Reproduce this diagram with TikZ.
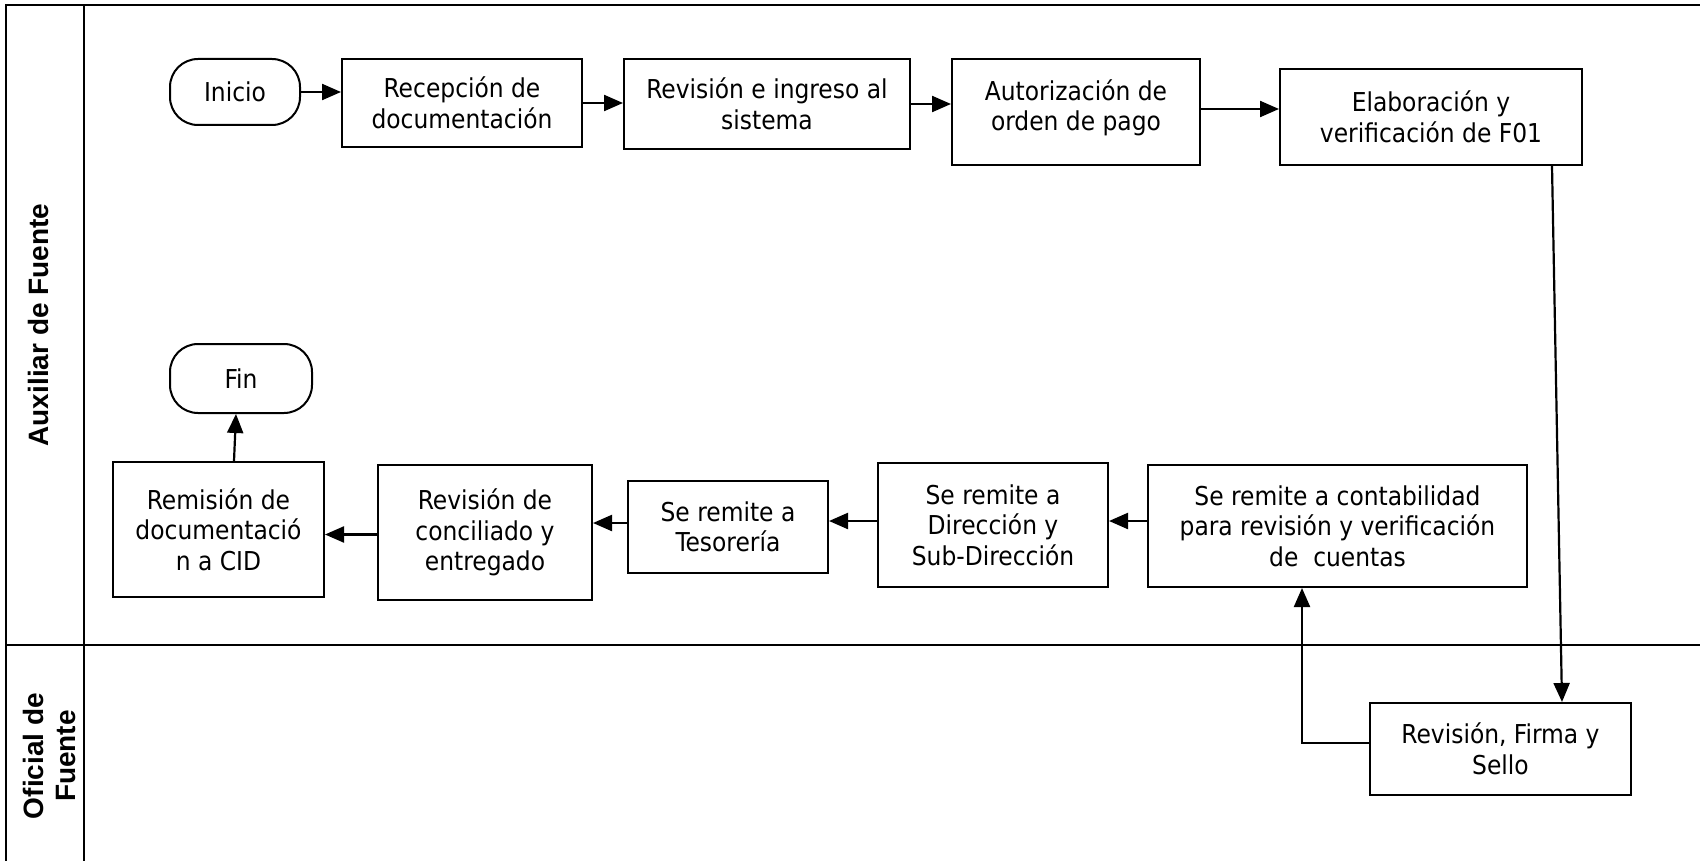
\documentclass[tikz,border=0pt]{standalone}
\usepackage{fontspec}
\setmainfont{DejaVu Sans Condensed}
\newfontfamily\lanefont{Liberation Sans}
\usetikzlibrary{arrows.meta,calc}
\begin{document}
\begin{tikzpicture}[x=1pt,y=-1pt,
  box/.style={draw, line width=2pt, align=center, inner sep=0pt,
    font=\fontsize{26}{30.5}\selectfont},
  term/.style={box, rounded corners=28pt},
  arr/.style={line width=2.2pt, -{Triangle[length=19pt,width=16pt]}},
  lane/.style={line width=2.4pt},
  lanelabel/.style={rotate=90, align=center,
    font=\lanefont\bfseries\fontsize{28}{32}\selectfont}]
\useasboundingbox (0,0) rectangle (1700,861);

% lanes
\draw[lane] (1700,5) -- (6,5) -- (6,861);
\draw[lane] (84,5) -- (84,861);
\draw[lane] (6,645) -- (1700,645);
\node[lanelabel] (l1) at (38,325) {Auxiliar de Fuente};
\node[lanelabel] (l2) at (49,756) {Oficial de\\Fuente};

% nodes
\node[term, minimum width=130pt, minimum height=66pt] (ini) at (235,92) {Inicio};
\node[box, minimum width=240pt, minimum height=88pt] (rec) at (462,103) {Recepción de\\documentación};
\node[box, minimum width=286pt, minimum height=90pt] (rev) at (767,104) {Revisión e ingreso al\\sistema};
\node[box, minimum width=248pt, minimum height=106pt, text depth=14pt] (aut) at (1076,112) {Autorización de\\orden de pago};
\node[box, minimum width=302pt, minimum height=96pt] (ela) at (1431,117) {Elaboración y\\verificación de F01};
\node[box, minimum width=261pt, minimum height=92pt] (fir) at (1500.5,749) {Revisión, Firma y\\Sello};
\node[box, minimum width=379pt, minimum height=122pt] (con) at (1337.5,526) {Se remite a contabilidad\\para revisión y verificación\\de\ \ cuentas};
\node[box, minimum width=230pt, minimum height=124pt] (dir) at (993,525) {Se remite a\\Dirección y\\Sub-Dirección};
\node[box, minimum width=200pt, minimum height=92pt] (tes) at (728,527) {Se remite a\\Tesorería};
\node[box, minimum width=214pt, minimum height=135pt] (cnc) at (485,532.5) {Revisión de\\conciliado y\\entregado};
\node[box, minimum width=211pt, minimum height=135pt] (rem) at (218.5,529.5) {Remisión de\\documentació\\n a CID};
\node[term, minimum width=142pt, minimum height=69pt] (fin) at (241,378.5) {Fin};

% connectors
\draw[arr] (ini.east) -- (ini.east -| rec.west);
\draw[arr] (rec.east) -- (rec.east -| rev.west);
\draw[arr] (rev.east) -- (rev.east -| aut.west);
\draw[arr] ([yshift=3pt]aut.east) -- ([yshift=3pt]aut.east -| ela.west);
\draw[arr] ([xshift=-31pt]ela.south east) -- ([xshift=-70pt]fir.north east);
\draw[arr] ([yshift=6pt]fir.west) -| ([xshift=-35.5pt]con.south);
\draw[arr] ([yshift=5pt]con.west) -- ([yshift=5pt]con.west -| dir.east);
\draw[arr] ([yshift=4pt]dir.west) -- ([yshift=4pt]dir.west -| tes.east);
\draw[arr] ([yshift=4pt]tes.west) -- ([yshift=4pt]tes.west -| cnc.east);
\draw[arr] ([yshift=-2pt]cnc.west) -- ([yshift=-2pt]cnc.west -| rem.east);
\draw[arr] ([xshift=15.5pt]rem.north) -- ([xshift=-5pt]fin.south);
\end{tikzpicture}
\end{document}
